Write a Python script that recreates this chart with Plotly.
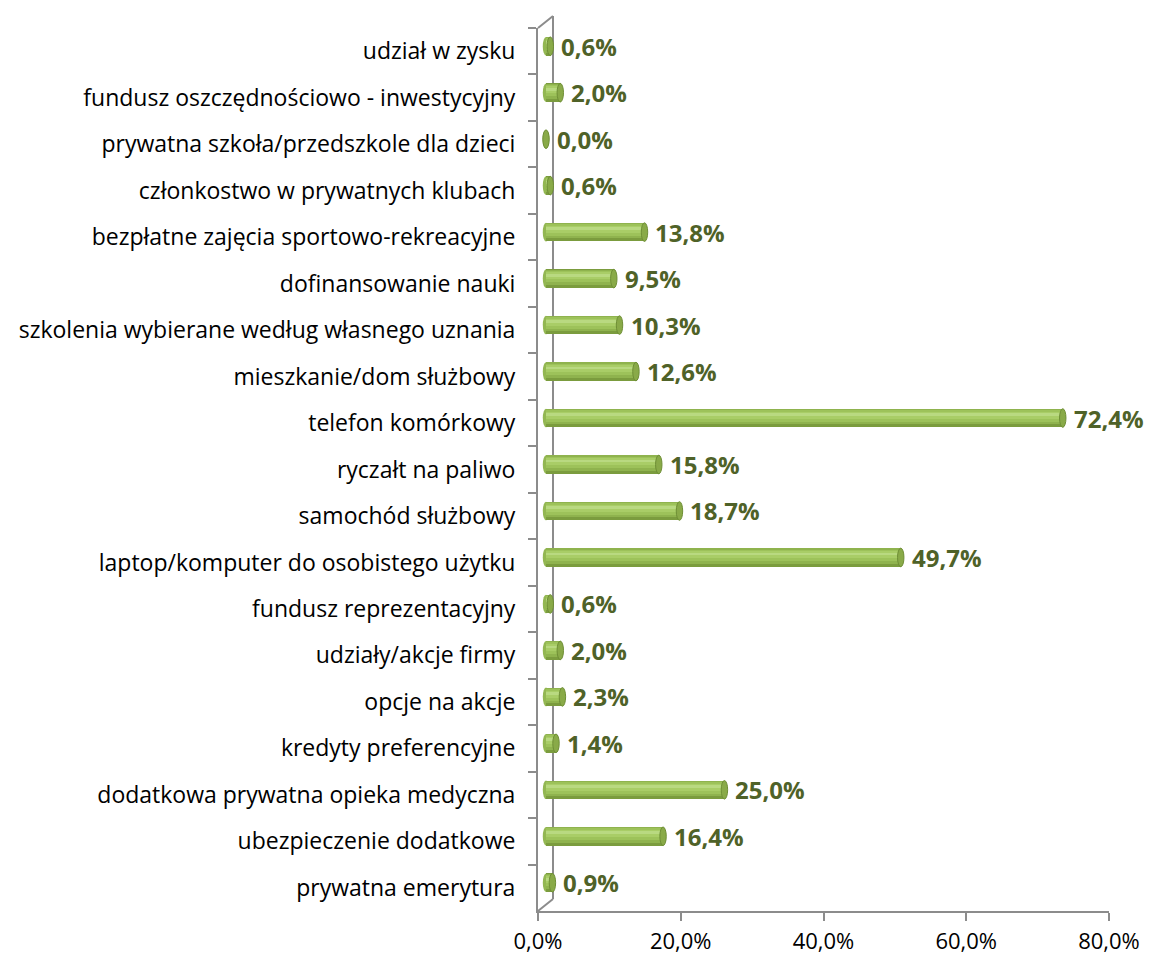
import plotly.graph_objects as go

# ---------------- data ----------------
categories = [
    "udział w zysku",
    "fundusz oszczędnościowo - inwestycyjny",
    "prywatna szkoła/przedszkole dla dzieci",
    "członkostwo w prywatnych klubach",
    "bezpłatne zajęcia sportowo-rekreacyjne",
    "dofinansowanie nauki",
    "szkolenia wybierane według własnego uznania",
    "mieszkanie/dom służbowy",
    "telefon komórkowy",
    "ryczałt na paliwo",
    "samochód służbowy",
    "laptop/komputer do osobistego użytku",
    "fundusz reprezentacyjny",
    "udziały/akcje firmy",
    "opcje na akcje",
    "kredyty preferencyjne",
    "dodatkowa prywatna opieka medyczna",
    "ubezpieczenie dodatkowe",
    "prywatna emerytura",
]
values = [0.6, 2.0, 0.0, 0.6, 13.8, 9.5, 10.3, 12.6, 72.4, 15.8,
          18.7, 49.7, 0.6, 2.0, 2.3, 1.4, 25.0, 16.4, 0.9]
x_tick_vals = [0, 20, 40, 60, 80]
x_tick_text = ["0,0%", "20,0%", "40,0%", "60,0%", "80,0%"]
value_labels = [f"{v:.1f}".replace(".", ",") + "%" for v in values]

# ---------------- geometry (pixels, in the 1152x956 window) ----------------
PAGE_OFF = 8                 # browser default body margin
W, H = 1152 - PAGE_OFF, 956 - PAGE_OFF
FX0, FX1 = 538, 1109        # front x axis extent
FY0, FY1 = 28, 911          # front y axis extent
DEPTH_X, DEPTH_Y = 15, 12   # back wall offset
BAR_DX, BAR_DY = 8, 5       # bars sit at mid depth
XMIN, XMAX = 0, 80
PX_PER = (FX1 - FX0) / (XMAX - XMIN)
X2MIN = -2                  # extra room so the left cylinder cap isn't clipped
N = len(categories)


def fx(p):
    return (p - PAGE_OFF) / W


def fy(p):
    return 1 - (p - PAGE_OFF) / H


AXIS_COL = "#8C8C8C"
FONT = "Open Sans"

fig = go.Figure()

# invisible trace so the front axes are drawn
fig.add_trace(go.Scatter(x=values, y=categories, mode="none", xaxis="x", yaxis="y",
                         hoverinfo="skip", showlegend=False))

# layered bars to fake the cylinder shading (reversed axis: negative = up)
layers = [
    ("#7B9C3E", -0.20, 0.40),
    ("#8FB34E", -0.195, 0.33),
    ("#9DC25A", -0.17, 0.25),
    ("#A9CD67", -0.135, 0.15),
    ("#B9D981", -0.105, 0.06),
]
for color, off, wid in layers:
    fig.add_trace(go.Bar(
        y=categories, x=values, orientation="h", xaxis="x2", yaxis="y2",
        marker=dict(color=color, line=dict(width=0)),
        offset=off, width=wid, hoverinfo="skip", showlegend=False,
    ))

shapes = []
cap_hw = 0.45
cap_hh = 0.20
for i, v in enumerate(values):
    shapes.append(dict(type="circle", xref="x2", yref="y2",
                       x0=-cap_hw, x1=cap_hw, y0=i - cap_hh, y1=i + cap_hh,
                       fillcolor="#93B752", line=dict(width=0), layer="below"))
    shapes.append(dict(type="circle", xref="x2", yref="y2",
                       x0=v - cap_hw, x1=v + cap_hw, y0=i - cap_hh, y1=i + cap_hh,
                       fillcolor="#89AA48", line=dict(color="#6E8E35", width=1),
                       layer="above"))

# back wall lines
bx = FX0 + DEPTH_X
shapes += [
    dict(type="line", xref="paper", yref="paper", x0=fx(bx), x1=fx(bx),
         y0=fy(FY0 - DEPTH_Y), y1=fy(FY1 - DEPTH_Y),
         line=dict(color=AXIS_COL, width=2), layer="below"),
    dict(type="line", xref="paper", yref="paper", x0=fx(FX0), x1=fx(bx),
         y0=fy(FY0), y1=fy(FY0 - DEPTH_Y),
         line=dict(color=AXIS_COL, width=2), layer="below"),
    dict(type="line", xref="paper", yref="paper", x0=fx(FX0), x1=fx(bx),
         y0=fy(FY1), y1=fy(FY1 - DEPTH_Y),
         line=dict(color=AXIS_COL, width=2), layer="below"),
]

annotations = []
for i, (v, lab) in enumerate(zip(values, value_labels)):
    annotations.append(dict(
        x=v, y=categories[i], xref="x2", yref="y2", text=f"<b>{lab}</b>",
        showarrow=False, xanchor="left", yanchor="middle", xshift=9, yshift=0,
        font=dict(family=FONT, size=24, color="#4F6228"),
    ))

x2_left_px = FX0 + BAR_DX + X2MIN * PX_PER
x2_right_px = FX1 + BAR_DX

fig.update_layout(
    template="none",
    width=W, height=H,
    margin=dict(l=0, r=0, t=0, b=0, autoexpand=False),
    paper_bgcolor="white", plot_bgcolor="rgba(0,0,0,0)",
    barmode="overlay", bargap=0,
    showlegend=False,
    shapes=shapes, annotations=annotations,
    font=dict(family=FONT, color="#000000"),
    xaxis=dict(
        domain=[fx(FX0), fx(FX1)], range=[XMIN, XMAX], anchor="y",
        tickmode="array", tickvals=x_tick_vals, ticktext=x_tick_text,
        ticks="outside", ticklen=8, tickwidth=2, tickcolor=AXIS_COL,
        showline=True, linecolor=AXIS_COL, linewidth=2,
        showgrid=False, zeroline=False, fixedrange=True, automargin=False,
        tickfont=dict(family=FONT, size=22, color="#000000"),
        ticklabelstandoff=2,
    ),
    yaxis=dict(
        domain=[fy(FY1), fy(FY0)], anchor="x", range=[N - 0.5, -0.5],
        type="category", categoryorder="array", categoryarray=categories,
        tickson="boundaries",
        ticks="outside", ticklen=8, tickwidth=2, tickcolor=AXIS_COL,
        showline=True, linecolor=AXIS_COL, linewidth=2,
        showgrid=False, zeroline=False, fixedrange=True, automargin=False,
        tickfont=dict(family=FONT, size=23, color="#000000"),
        ticklabelstandoff=16,
    ),
    xaxis2=dict(
        domain=[fx(x2_left_px), fx(x2_right_px)], range=[X2MIN, XMAX],
        anchor="y2", visible=False, fixedrange=True, automargin=False,
    ),
    yaxis2=dict(
        domain=[fy(FY1 - BAR_DY), fy(FY0 - BAR_DY)], anchor="x2",
        range=[N - 0.5, -0.5],
        type="category", categoryorder="array", categoryarray=categories,
        visible=False, fixedrange=True, automargin=False,
    ),
)

fig.write_html("out.html")
